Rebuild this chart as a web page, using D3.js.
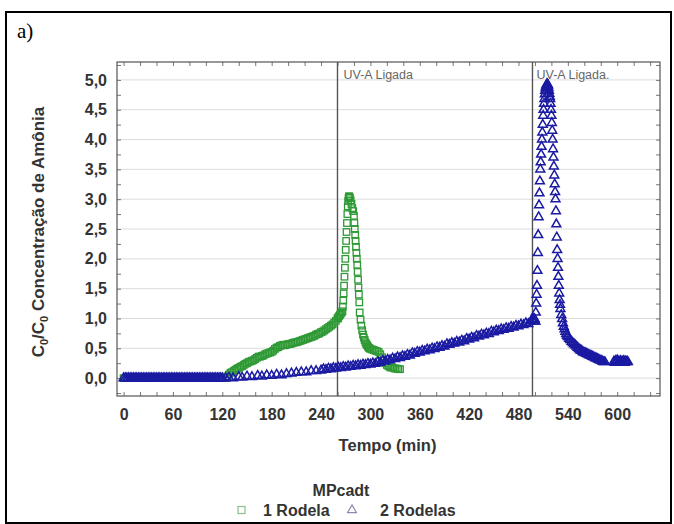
<!DOCTYPE html>
<html>
<head>
<meta charset="utf-8">
<script src="https://cdn.jsdelivr.net/npm/d3@7"></script>
<style>
  html, body { margin: 0; padding: 0; background: #fff; }
  svg { display: block; }
</style>
</head>
<body>
<svg id="chart" width="674" height="524"></svg>
<script>
// Ammonia concentration ratio over time, two disc configurations
const xTicks = [0, 60, 120, 180, 240, 300, 360, 420, 480, 540, 600];
const yTicks = [0, 0.5, 1, 1.5, 2, 2.5, 3, 3.5, 4, 4.5, 5];
const uvOnTimes = [260, 497];
const uvLabels = ["UV-A Ligada", "UV-A Ligada."];
const legendTitle = "MPcadt";
const seriesNames = ["1 Rodela", "2 Rodelas"];

// 1 Rodela: [time (min), C/C0]
const rodela1 = [
  [0,0],[4,0],[8,0],[12,0],[16,0],[20,0],[24,0],[28,0],[32,0],[36,0],[40,0],[44,0],[48,0],
  [52,0],[56,0],[60,0],[64,0],[68,0],[72,0],[76,0],[80,0],[84,0],[88,0],[92,0],[96,0],
  [100,0],[104,0],[108,0],[112,0],[116,0],[120,0],[124,0],
  [126,0.03],[128,0.06],[130,0.09],[132,0.10],[134,0.12],[136,0.14],[138,0.16],[140,0.17],
  [142,0.19],[144,0.20],[146,0.22],[148,0.24],[150,0.25],[152,0.27],[154,0.28],[156,0.29],
  [158,0.30],[160,0.32],[162,0.34],[164,0.36],[166,0.36],[168,0.37],[170,0.38],[172,0.40],
  [174,0.41],[176,0.42],[178,0.43],[180,0.44],[182,0.46],[184,0.49],[186,0.51],[188,0.52],
  [190,0.54],[192,0.55],[194,0.56],[196,0.55],[198,0.56],[200,0.57],[202,0.57],[204,0.58],
  [206,0.59],[208,0.60],[210,0.60],[212,0.61],[214,0.62],[216,0.63],[218,0.64],[220,0.65],
  [222,0.66],[224,0.67],[226,0.68],[228,0.69],[230,0.70],[232,0.71],[234,0.73],[236,0.74],
  [238,0.75],[240,0.77],[242,0.78],[244,0.80],[246,0.82],[248,0.84],[250,0.86],[252,0.88],
  [254,0.90],[256,0.93],[258,0.96],[260,1.00],
  [260.5,1.00],[261,1.02],[262,1.04],[263,1.06],[264,1.08],[265,1.10],[266,1.12],[266.5,1.20],
  [267,1.30],[267.5,1.42],[268,1.55],[268.5,1.70],[269,1.85],[269.5,2.00],[270,2.15],[270.5,2.30],
  [271,2.45],[271.5,2.60],[272,2.75],[272.5,2.88],[273,2.97],[273.5,3.02],[274,3.05],[274.5,3.04],
  [275,3.02],[276,2.98],[277,2.92],[278,2.85],[279,2.80],[280,2.72],[280.5,2.60],[281,2.50],
  [281.5,2.40],[282,2.30],[282.5,2.20],[283,2.10],[283.5,2.00],[284,1.90],[284.5,1.78],[285,1.65],
  [285.5,1.52],[286,1.40],[286.5,1.27],[287,1.10],[288,0.98],[289,0.88],[290,0.80],[291,0.73],
  [292,0.68],[293,0.64],[294,0.60],[295,0.57],[296,0.55],[297,0.53],[298,0.51],[299,0.50],
  [300,0.49],[302,0.48],[304,0.47],[306,0.46],[308,0.45],[310,0.44],[312,0.40],[314,0.35],
  [316,0.30],[318,0.25],[320,0.22],[322,0.20],[324,0.18],[326,0.18],[328,0.17],[330,0.16],
  [332,0.16],[334,0.15],[336,0.15]
];

// 2 Rodelas: [time (min), C/C0]
const rodela2 = [
  [0,0],[2,0],[4,0],[6,0],[8,0],[10,0],[12,0],[14,0],[16,0],[18,0],[20,0],[22,0],[24,0],
  [26,0],[28,0],[30,0],[32,0],[34,0],[36,0],[38,0],[40,0],[42,0],[44,0],[46,0],[48,0],
  [50,0],[52,0],[54,0],[56,0],[58,0],[60,0],[62,0],[64,0],[66,0],[68,0],[70,0],[72,0],
  [74,0],[76,0],[78,0],[80,0],[82,0],[84,0],[86,0],[88,0],[90,0],[92,0],[94,0],[96,0],
  [98,0],[100,0],[102,0],[104,0],[106,0],[108,0],[110,0],[112,0],[114,0],[116,0],[118,0],[120,0],
  [124,0.00],[128,0.01],[133,0.00],[140,0.02],[144,0.01],[150,0.03],[156,0.02],[163,0.04],
  [168,0.03],[174,0.05],[180,0.04],[186,0.06],[192,0.05],[198,0.07],[204,0.08],[210,0.09],
  [216,0.10],[222,0.10],[228,0.12],[234,0.12],
  [240,0.13],[243,0.15],[246,0.14],[249,0.16],[252,0.15],[255,0.17],[258,0.16],[261,0.18],
  [264,0.17],[267,0.19],[270,0.18],[273,0.20],[276,0.19],[279,0.21],[282,0.20],[285,0.22],
  [288,0.21],[291,0.23],[294,0.22],[297,0.24],[300,0.23],[303,0.25],[306,0.24],[309,0.27],
  [312,0.26],[315,0.29],[318,0.28],[321,0.31],[324,0.30],[327,0.33],[330,0.32],[333,0.35],
  [336,0.34],[339,0.37],[342,0.36],[345,0.39],[348,0.38],[351,0.42],[354,0.41],[357,0.44],
  [360,0.43],[363,0.46],[366,0.45],[369,0.48],[372,0.47],[375,0.50],[378,0.49],[381,0.52],
  [384,0.51],[387,0.54],[390,0.53],[393,0.57],[396,0.56],[399,0.59],[402,0.58],[405,0.61],
  [408,0.60],[411,0.63],[414,0.62],[417,0.66],[420,0.65],[423,0.68],[426,0.67],[429,0.71],
  [432,0.70],[435,0.73],[438,0.72],[441,0.75],[444,0.74],[447,0.78],[450,0.77],[453,0.80],
  [456,0.79],[459,0.82],[462,0.81],[465,0.84],[468,0.83],[471,0.86],[474,0.85],[477,0.88],
  [480,0.87],[483,0.90],[486,0.89],[489,0.92],[492,0.91],[495,0.95],[497,0.97],
  [497.5,0.98],[498,0.98],[498.5,0.98],[499,0.99],[499.5,0.99],[500,0.95],[500.5,0.95],[501,1.10],
  [501.5,1.25],[502,1.40],[502.5,1.55],[503,1.80],[503.5,2.10],[504,2.40],[504.5,2.70],[505,2.90],
  [505.5,3.10],[506,3.30],[506.5,3.50],[507,3.62],[507.5,3.75],[508,3.88],[508.5,4.00],[509,4.12],
  [509.5,4.25],[510,4.40],[510.5,4.50],[511,4.60],[511.5,4.68],[512,4.76],[512.5,4.82],[513,4.86],
  [513.5,4.89],[514,4.91],[514.5,4.93],[515,4.93],[515.5,4.92],[516,4.90],[516.5,4.86],[517,4.82],
  [517.5,4.77],[518,4.72],[518.5,4.68],[519,4.60],[519.5,4.50],[520,4.40],[520.5,4.28],[521,4.15],
  [521.5,4.00],[522,3.84],[522.5,3.70],[523,3.55],[523.5,3.40],[524,3.25],[524.5,3.12],[525,3.00],
  [525.5,2.80],[526,2.58],[526.5,2.36],[527,2.15],[527.5,2.00],[528,1.85],[528.5,1.70],[529,1.55],
  [529.5,1.42],[530,1.31],[530.5,1.23],[531,1.16],[532,1.06],[533,0.99],[534,0.92],[535,0.86],
  [536,0.82],[537,0.78],[538,0.74],[539,0.71],[540,0.69],[541.5,0.66],[543,0.64],[544.5,0.61],
  [546,0.59],[547.5,0.57],[549,0.55],[550.5,0.53],[552,0.51],[553.5,0.49],[555,0.47],[556.5,0.46],
  [558,0.44],[559.5,0.43],[561,0.42],[562.5,0.41],[564,0.40],[565.5,0.39],[567,0.38],[568.5,0.37],
  [570,0.36],[571.5,0.35],[573,0.34],[574.5,0.33],[576,0.32],[577.5,0.31],[579,0.30],[580.5,0.29],
  [582,0.28],[583.5,0.27],[585,0.27],
  [596,0.28],[597,0.26],[598,0.29],[599,0.27],[600,0.30],[601,0.26],[602,0.28],[603,0.27],
  [604,0.29],[605,0.26],[606,0.28],[607,0.27],[608,0.29],[609,0.26],[610,0.28],[611,0.27],
  [612,0.28],[613,0.27]
];

const green = "#2f9a35";
const blue = "#1a1aa2";
const labelFont = "Liberation Sans, Arial, sans-serif";

const svg = d3.select("#chart");
const plot = { left: 117, right: 660, top: 62, bottom: 396 };

const x = d3.scaleLinear().domain([-8, 652]).range([plot.left, plot.right]);
const y = d3.scaleLinear().domain([-0.3, 5.3]).range([plot.bottom, plot.top]);

// outer panel frame and panel letter
svg.append("rect")
  .attr("x", 6).attr("y", 12).attr("width", 665).attr("height", 511)
  .attr("fill", "none").attr("stroke", "#000").attr("stroke-width", 2);

svg.append("text")
  .attr("x", 17).attr("y", 38)
  .attr("font-family", "Liberation Serif, Times New Roman, serif")
  .attr("font-size", 21).attr("fill", "#000")
  .text("a)");

// horizontal grid
svg.append("g").selectAll("line").data(yTicks).join("line")
  .attr("x1", plot.left).attr("x2", plot.right)
  .attr("y1", d => y(d)).attr("y2", d => y(d))
  .attr("stroke", "#dcdcdc").attr("stroke-width", 1);

// small inward ticks on all four sides of the frame
const xMinor = d3.range(0, 641, 20);
const yMinor = d3.range(-0.25, 5.3, 0.25);
[[d3.axisBottom(x).tickValues(xMinor), `translate(0,${plot.bottom})`],
 [d3.axisTop(x).tickValues(xMinor), `translate(0,${plot.top})`],
 [d3.axisLeft(y).tickValues(yMinor), `translate(${plot.left},0)`],
 [d3.axisRight(y).tickValues(yMinor), `translate(${plot.right},0)`]]
  .forEach(([ax, tr]) => {
    const g = svg.append("g").attr("transform", tr).call(ax.tickSize(-4).tickFormat(""));
    g.select(".domain").remove();
    g.selectAll("line").attr("stroke", "#777");
  });

// tick labels
const fmt = d => d3.format(".1f")(d).replace(".", ",");
const gx = svg.append("g").attr("transform", `translate(0,${plot.bottom})`)
  .call(d3.axisBottom(x).tickValues(xTicks).tickSize(0).tickPadding(13).tickFormat(d3.format("d")));
gx.select(".domain").remove();
gx.selectAll("text").attr("font-family", labelFont).attr("font-size", 16)
  .attr("font-weight", "bold").attr("fill", "#333");

const gy = svg.append("g").attr("transform", `translate(${plot.left},0)`)
  .call(d3.axisLeft(y).tickValues(yTicks).tickSize(0).tickPadding(10).tickFormat(fmt));
gy.select(".domain").remove();
gy.selectAll("text").attr("font-family", labelFont).attr("font-size", 16)
  .attr("font-weight", "bold").attr("fill", "#333");

// UV-A switch-on markers
uvOnTimes.forEach((t, i) => {
  svg.append("line")
    .attr("x1", x(t)).attr("x2", x(t)).attr("y1", plot.top).attr("y2", plot.bottom)
    .attr("stroke", "#555").attr("stroke-width", 1.4);
  svg.append("text")
    .attr("x", x(t) + (i === 0 ? 6 : 4)).attr("y", plot.top + 17)
    .attr("font-family", labelFont).attr("font-size", 12.5).attr("fill", "#666")
    .text(uvLabels[i]);
});

// series markers
const sq = 6.5;
svg.append("g").selectAll("rect").data(rodela1).join("rect")
  .attr("x", d => x(d[0]) - sq / 2).attr("y", d => y(d[1]) - sq / 2)
  .attr("width", sq).attr("height", sq)
  .attr("fill", "none").attr("stroke", green).attr("stroke-width", 1.3);

const tri = d3.symbol().type(d3.symbolTriangle).size(34);
svg.append("g").selectAll("path").data(rodela2).join("path")
  .attr("transform", d => `translate(${x(d[0])},${y(d[1])})`)
  .attr("d", tri)
  .attr("fill", "none").attr("stroke", blue).attr("stroke-width", 1.5);

// plot frame
svg.append("rect")
  .attr("x", plot.left).attr("y", plot.top)
  .attr("width", plot.right - plot.left).attr("height", plot.bottom - plot.top)
  .attr("fill", "none").attr("stroke", "#555").attr("stroke-width", 1.2);

// axis titles
svg.append("text")
  .attr("x", (plot.left + plot.right) / 2 - 1).attr("y", 451)
  .attr("text-anchor", "middle")
  .attr("font-family", labelFont).attr("font-size", 16.5).attr("font-weight", "bold").attr("fill", "#333")
  .text("Tempo (min)");

const yt = svg.append("text")
  .attr("transform", `translate(44,${(plot.top + plot.bottom) / 2 + 3}) rotate(-90)`)
  .attr("text-anchor", "middle")
  .attr("font-family", labelFont).attr("font-size", 17).attr("font-weight", "bold").attr("fill", "#333");
yt.append("tspan").text("C");
yt.append("tspan").attr("font-size", 11).attr("dy", 4).text("0");
yt.append("tspan").attr("dy", -4).text("/C");
yt.append("tspan").attr("font-size", 11).attr("dy", 4).text("0");
yt.append("tspan").attr("dy", -4).text(" Concentração de Amônia");

// legend
svg.append("text")
  .attr("x", 341).attr("y", 496).attr("text-anchor", "middle")
  .attr("font-family", labelFont).attr("font-size", 16).attr("font-weight", "bold").attr("fill", "#333")
  .text(legendTitle);

const legY = 510;
svg.append("rect")
  .attr("x", 238).attr("y", legY - 3.5).attr("width", 7).attr("height", 7)
  .attr("fill", "none").attr("stroke", "#8abf8a").attr("stroke-width", 1.2);
svg.append("text")
  .attr("x", 263).attr("y", legY + 6)
  .attr("font-family", labelFont).attr("font-size", 16).attr("font-weight", "bold").attr("fill", "#333")
  .text(seriesNames[0]);
svg.append("path")
  .attr("transform", `translate(352,${legY})`)
  .attr("d", tri)
  .attr("fill", "none").attr("stroke", "#8a8ab0").attr("stroke-width", 1.2);
svg.append("text")
  .attr("x", 380).attr("y", legY + 6)
  .attr("font-family", labelFont).attr("font-size", 16).attr("font-weight", "bold").attr("fill", "#333")
  .text(seriesNames[1]);
</script>
</body>
</html>
